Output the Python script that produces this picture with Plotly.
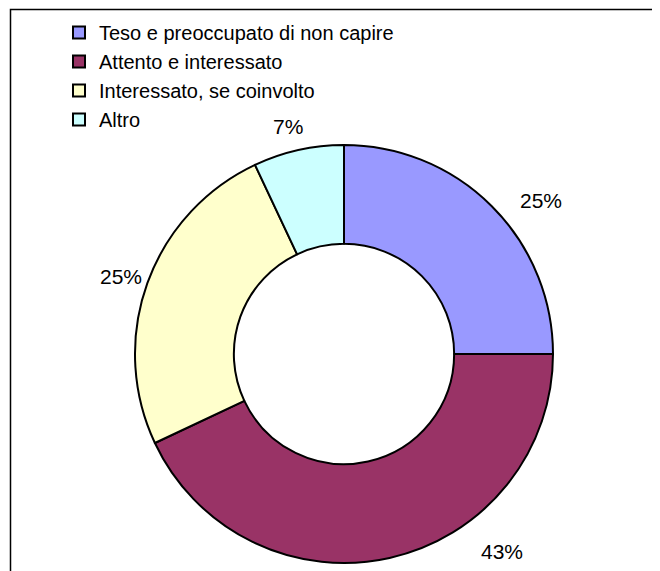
import plotly.graph_objects as go

categories = ["Teso e preoccupato di non capire", "Attento e interessato",
              "Interessato, se coinvolto", "Altro"]
values = [25, 43, 25, 7]
colors = ["#9999FF", "#993366", "#FFFFCC", "#CCFFFF"]

W, H = 660, 571
OFF = 8  # page body margin offset
FONT = "Arial, Liberation Sans, sans-serif"

# pie geometry in page pixels
cx, cy, r = 344 - OFF, 354 - OFF, 209

fig = go.Figure(go.Pie(
    labels=categories,
    values=values,
    hole=0.527,
    sort=False,
    direction="clockwise",
    rotation=0,
    marker=dict(colors=colors, line=dict(color="black", width=2)),
    textinfo="none",
    hoverinfo="label+percent",
    domain=dict(x=[(cx - r) / W, (cx + r) / W],
                y=[(H - cy - r) / H, (H - cy + r) / H]),
))

# outside percentage labels (page pixel centres)
label_px = [(541, 200), (502, 551), (121, 276), (288, 126)]
total = sum(values)
for v, (px, py) in zip(values, label_px):
    fig.add_annotation(
        x=(px - OFF) / W, y=1 - (py - OFF) / H, xref="paper", yref="paper",
        text=f"{round(100 * v / total)}%", showarrow=False,
        xanchor="center", yanchor="middle",
        font=dict(family=FONT, size=21, color="black"),
    )

# chart frame
fig.add_shape(type="rect", xref="paper", yref="paper",
              x0=(10.5 - OFF) / W, x1=1.2, y0=-0.2, y1=1 - (9.5 - OFF) / H,
              line=dict(color="black", width=1.5), fillcolor="rgba(0,0,0,0)")

fig.update_layout(
    width=W, height=H,
    margin=dict(l=0, r=0, t=0, b=0),
    paper_bgcolor="white", plot_bgcolor="white",
    showlegend=True,
    legend=dict(x=51 / W, y=1 - 5 / H, xanchor="left", yanchor="top",
                font=dict(family=FONT, size=20, color="black"),
                bgcolor="rgba(0,0,0,0)", tracegroupgap=0, itemsizing="constant"),
    font=dict(family=FONT),
)

fig.write_html("out.html")
